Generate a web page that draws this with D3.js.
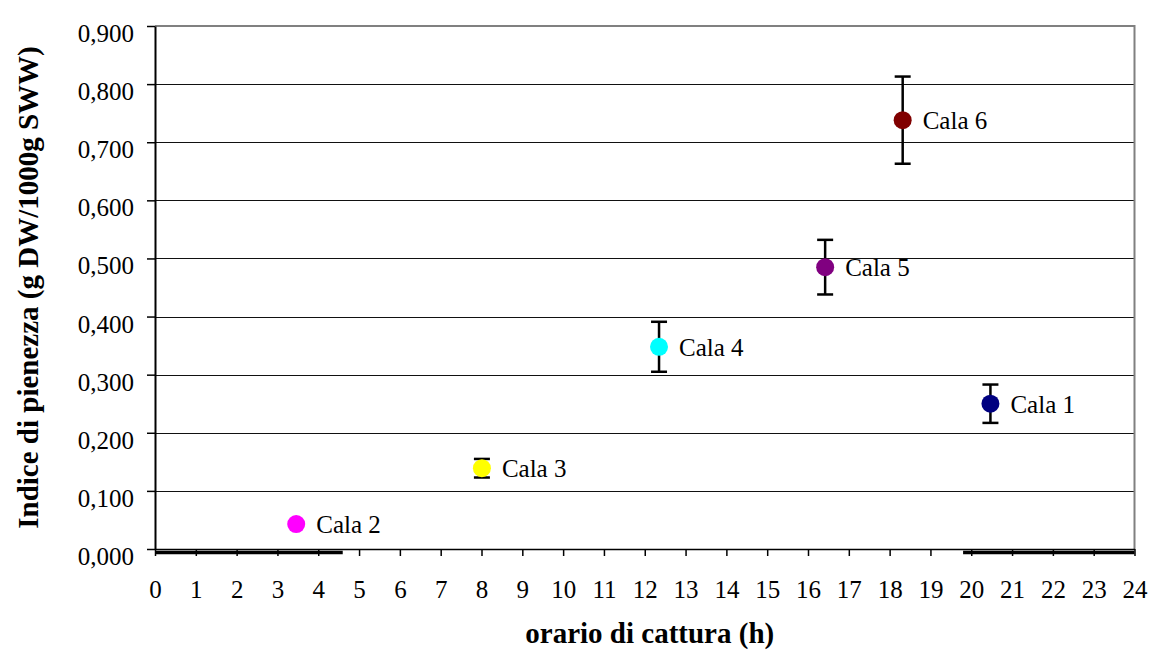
<!DOCTYPE html>
<html>
<head>
<meta charset="utf-8">
<script src="https://cdn.jsdelivr.net/npm/d3@7"></script>
<style>
  html, body { margin: 0; padding: 0; background: #fff; }
  svg { display: block; }
</style>
</head>
<body>
<svg id="chart" width="1151" height="653"></svg>
<script>
// Hauls (cale): capture time (h), fullness index and its error
const cale = ["Cala 1", "Cala 2", "Cala 3", "Cala 4", "Cala 5", "Cala 6"];
const orario = [20.47, 3.46, 8.01, 12.35, 16.42, 18.32];
const indice = [0.250, 0.043, 0.139, 0.348, 0.485, 0.738];
const errore = [0.033, 0.000, 0.016, 0.043, 0.047, 0.075];
const colori = ["#000080", "#FF00FF", "#FFFF00", "#00FFFF", "#800080", "#800000"];

// Night-time stretches marked along the time axis
const notteInizio = [0, 19.8];
const notteFine = [4.6, 24];

const xTicks = d3.range(0, 25, 1);
const yTicks = d3.range(0, 0.901, 0.1);

const SERIF = "'Liberation Serif', 'Times New Roman', Times, serif";

const margin = { left: 155, top: 26, right: 1151 - 1134.5, bottom: 653 - 549 };
const W = 1151, H = 653;

const svg = d3.select("#chart");

const x = d3.scaleLinear().domain([0, 24]).range([margin.left, W - margin.right]);
const y = d3.scaleLinear().domain([0, 0.9]).range([H - margin.bottom, margin.top]);

const fmt = v => d3.format(".3f")(v).replace(".", ",");

// Horizontal gridlines
svg.append("g")
  .selectAll("line")
  .data(yTicks.slice(1, -1))
  .join("line")
  .attr("x1", x(0)).attr("x2", x(24))
  .attr("y1", d => Math.round(y(d)) + 0.5).attr("y2", d => Math.round(y(d)) + 0.5)
  .attr("stroke", "#111").attr("stroke-width", 1);

// Plot frame: top and right edges in grey
svg.append("path")
  .attr("d", `M${x(0)},${y(0.9)}H${x(24)}V${y(0)}`)
  .attr("fill", "none").attr("stroke", "#808080").attr("stroke-width", 2);

// Y axis
const yAxis = svg.append("g")
  .attr("transform", `translate(${x(0)},0)`)
  .call(d3.axisLeft(y).tickValues(yTicks).tickFormat(fmt).tickSize(8).tickSizeOuter(0).tickPadding(13));
yAxis.attr("font-family", null).attr("font-size", null);
yAxis.select(".domain").attr("stroke", "#000").attr("stroke-width", 2);
yAxis.selectAll(".tick line").attr("stroke", "#000").attr("stroke-width", 1.5);
yAxis.selectAll(".tick text")
  .style("font-family", SERIF).style("font-size", "25px")
  .attr("dy", "0.62em").attr("fill", "#000");

// X axis
const xAxis = svg.append("g")
  .attr("transform", `translate(0,${y(0)})`)
  .call(d3.axisBottom(x).tickValues(xTicks).tickFormat(d3.format("d")).tickSize(7).tickSizeOuter(0).tickPadding(24));
xAxis.attr("font-family", null).attr("font-size", null);
xAxis.select(".domain").attr("stroke", "#000").attr("stroke-width", 1.5);
xAxis.selectAll(".tick line").attr("stroke", "#000").attr("stroke-width", 1.5);
xAxis.selectAll(".tick text")
  .style("font-family", SERIF).style("font-size", "25px")
  .attr("fill", "#000");

// Night bands drawn as thick strokes just under the time axis
svg.append("g")
  .selectAll("line")
  .data(notteInizio.map((s, i) => [s, notteFine[i]]))
  .join("line")
  .attr("x1", d => x(d[0])).attr("x2", d => x(d[1]))
  .attr("y1", y(0) + 3.5).attr("y2", y(0) + 3.5)
  .attr("stroke", "#000").attr("stroke-width", 3.5);

// Error bars
const pts = cale.map((c, i) => ({ c, t: orario[i], v: indice[i], e: errore[i], col: colori[i] }));
const eb = svg.append("g").selectAll("g").data(pts.filter(d => d.e > 0)).join("g");
eb.append("line")
  .attr("x1", d => x(d.t)).attr("x2", d => x(d.t))
  .attr("y1", d => y(d.v + d.e)).attr("y2", d => y(d.v - d.e))
  .attr("stroke", "#000").attr("stroke-width", 2.5);
eb.append("line")
  .attr("x1", d => x(d.t) - 8).attr("x2", d => x(d.t) + 8)
  .attr("y1", d => y(d.v + d.e)).attr("y2", d => y(d.v + d.e))
  .attr("stroke", "#000").attr("stroke-width", 2.5);
eb.append("line")
  .attr("x1", d => x(d.t) - 8).attr("x2", d => x(d.t) + 8)
  .attr("y1", d => y(d.v - d.e)).attr("y2", d => y(d.v - d.e))
  .attr("stroke", "#000").attr("stroke-width", 2.5);

// Points
svg.append("g").selectAll("circle").data(pts).join("circle")
  .attr("cx", d => x(d.t)).attr("cy", d => y(d.v)).attr("r", 9)
  .attr("fill", d => d.col);

// Point labels
svg.append("g").selectAll("text").data(pts).join("text")
  .attr("x", d => x(d.t) + 20).attr("y", d => y(d.v) + 9)
  .style("font-family", SERIF).style("font-size", "25px")
  .attr("fill", "#000")
  .text(d => d.c);

// Axis titles
svg.append("text")
  .attr("x", (x(0) + x(24)) / 2 + 5).attr("y", 643)
  .attr("text-anchor", "middle")
  .style("font-family", SERIF).style("font-size", "29px").style("font-weight", "bold")
  .attr("fill", "#000")
  .text("orario di cattura (h)");

svg.append("text")
  .attr("transform", `translate(38,${(y(0) + y(0.9)) / 2}) rotate(-90)`)
  .attr("text-anchor", "middle")
  .style("font-family", SERIF).style("font-size", "29px").style("font-weight", "bold")
  .attr("fill", "#000")
  .text("Indice di pienezza (g DW/1000g SWW)");
</script>
</body>
</html>
